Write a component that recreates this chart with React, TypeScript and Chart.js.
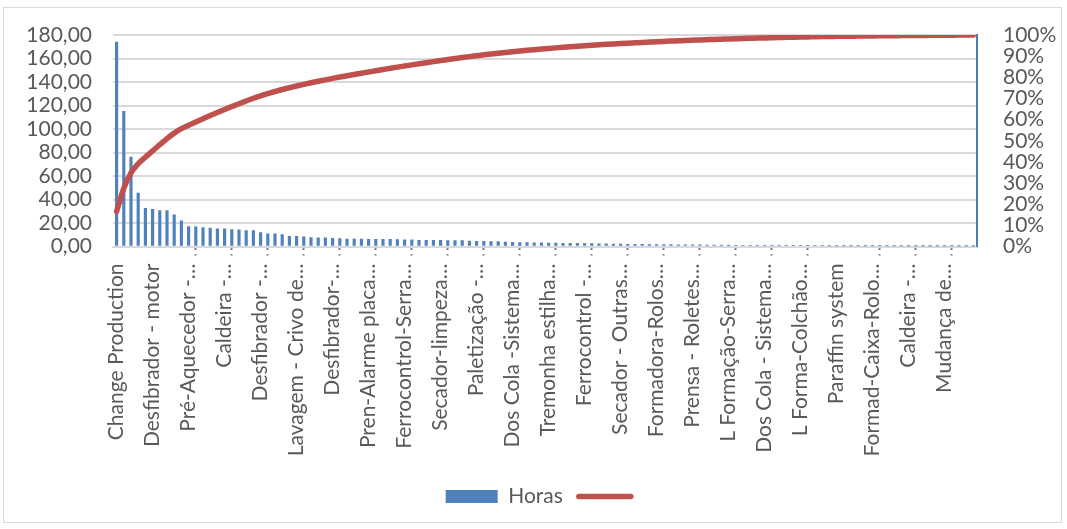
import React, { useEffect, useRef } from "react";
import { Chart, registerables } from "chart.js";

Chart.register(...registerables);

// Category names printed on the axis (one every LABEL_STEP categories)
const TICK_LABELS: string[] = [
  "Change Production",
  "Desfibrador - motor",
  "Pré-Aquecedor -…",
  "Caldeira -…",
  "Desfibrador -…",
  "Lavagem - Crivo de…",
  "Desfibrador-…",
  "Pren-Alarme placa…",
  "Ferrocontrol-Serra…",
  "Secador-limpeza…",
  "Paletização -…",
  "Dos Cola -Sistema…",
  "Tremonha estilha…",
  "Ferrocontrol -…",
  "Secador - Outras…",
  "Formadora-Rolos…",
  "Prensa - Roletes…",
  "L Formação-Serra…",
  "Dos Cola - Sistema…",
  "L Forma-Colchão…",
  "Paraffin system",
  "Formad-Caixa-Rolo…",
  "Caldeira -…",
  "Mudança de…",
];
const LABEL_STEP = 5;

// Downtime hours per cause, sorted descending
const HORAS: number[] = [
  174, 115, 76, 45.5, 32.4, 31.6, 30.5, 30.5, 27, 21.9,
  17, 16.7, 16.1, 15.6, 15, 15, 14.4, 14.2, 13.6, 13.6,
  11.9, 10.7, 10.7, 10.1, 8.7, 8.7, 8.2, 7.6, 7.3, 7.3,
  7.0, 6.7, 6.4, 6.4, 6.4, 6.1, 6.1, 6.1, 6.1, 5.8,
  5.6, 5.6, 5.3, 5.3, 5.3, 5.3, 5.0, 5.0, 5.0, 4.7,
  4.4, 4.4, 4.1, 4.1, 3.8, 3.6, 3.4, 3.3, 3.2, 3.1,
  3.0, 2.9, 2.8, 2.7, 2.6, 2.5, 2.4, 2.3, 2.2, 2.1,
  2.0, 1.9, 1.8, 1.8, 1.7, 1.7, 1.6, 1.6, 1.5, 1.5,
  1.4, 1.4, 1.3, 1.3, 1.2, 1.2, 1.1, 1.1, 1.0, 1.0,
  0.9, 0.9, 0.9, 0.8, 0.8, 0.8, 0.7, 0.7, 0.7, 0.6,
  0.6, 0.6, 0.4, 0.4, 0.4, 0.4, 0.4, 0.4, 0.4, 0.4,
  0.3, 0.3, 0.3, 0.3, 0.3, 0.3, 0.3, 0.3, 0.3, 0.3,
];

// Left axis (hours) and right axis (cumulative share)
const Y_MAX = 180;
const Y_STEP = 20;
const PCT_MAX = 100;
const PCT_STEP = 10;

// Small dotted tick marks under the category axis
const MARK_FIRST = 11;
const MARK_EVERY = 5;
const MARK_HIDDEN = [101];

const CATEGORIES = HORAS.map((_, i) =>
  i % LABEL_STEP === 0 ? TICK_LABELS[i / LABEL_STEP] ?? "" : ""
);

const TOTAL = HORAS.reduce((a, b) => a + b, 0);
const CUMULATIVE: number[] = (() => {
  let run = 0;
  return HORAS.map((v) => {
    run += v;
    return (run / TOTAL) * 100;
  });
})();

const BLUE = "#4F81BD";
const RED = "#C0504D";
const TEXT = "#595959";
const GRID = "#D9D9D9";
const CLEAR = "rgba(0,0,0,0)";
const FONT = { family: "Lato", size: 21 };

export default function App() {
  const canvasRef = useRef<HTMLCanvasElement | null>(null);

  useEffect(() => {
    const canvas = canvasRef.current;
    if (!canvas) return;

    const chart = new Chart(canvas, {
      type: "bar",
      data: {
        labels: CATEGORIES,
        datasets: [
          {
            type: "bar",
            label: "Horas",
            data: HORAS,
            backgroundColor: BLUE,
            borderWidth: 0,
            barThickness: 2.5,
            yAxisID: "y",
            order: 1,
          },
          {
            type: "line",
            label: "",
            data: CUMULATIVE,
            borderColor: RED,
            backgroundColor: RED,
            borderWidth: 5.5,
            borderCapStyle: "round",
            borderJoinStyle: "round",
            cubicInterpolationMode: "monotone",
            pointRadius: 0,
            yAxisID: "y2",
            order: 0,
          },
        ],
      },
      options: {
        animation: false,
        responsive: false,
        devicePixelRatio: 1,
        layout: { padding: { top: 35, left: 20, right: 0, bottom: 12 } },
        plugins: {
          tooltip: { enabled: false },
          legend: {
            position: "bottom",
            labels: {
              usePointStyle: true,
              pointStyleWidth: 52,
              boxHeight: 13,
              padding: 16,
              color: TEXT,
              font: FONT,
              sort: (a: any, b: any) => a.datasetIndex - b.datasetIndex,
              generateLabels: (c: any) => {
                const items = (Chart.defaults.plugins.legend.labels as any).generateLabels(c);
                return items.map((it: any) =>
                  it.datasetIndex === 1
                    ? { ...it, pointStyle: "line", lineWidth: 5.5, lineCap: "round", strokeStyle: RED }
                    : { ...it, pointStyle: "rect", lineWidth: 0, fillStyle: BLUE }
                );
              },
            },
          },
        },
        scales: {
          x: {
            offset: true,
            grid: {
              offset: false,
              drawOnChartArea: false,
              drawTicks: true,
              tickLength: 9,
              tickWidth: 2,
              tickBorderDash: [2, 4],
              tickColor: (ctx: any) => {
                const i = ctx.index;
                const on = i >= MARK_FIRST && (i - MARK_FIRST) % MARK_EVERY === 0 && !MARK_HIDDEN.includes(i);
                return on ? "#7F7F7F" : CLEAR;
              },
            },
            border: { display: true, color: GRID, width: 2 },
            ticks: {
              autoSkip: false,
              maxRotation: 90,
              minRotation: 90,
              padding: 8,
              color: TEXT,
              font: FONT,
            },
            afterFit: (s: any) => {
              s.height = 223.5;
            },
          },
          y: {
            position: "left",
            min: 0,
            max: Y_MAX,
            grid: { color: GRID, lineWidth: 2, drawTicks: true, tickLength: 19, tickColor: CLEAR },
            border: { display: false },
            ticks: {
              autoSkip: false,
              stepSize: Y_STEP,
              padding: 2,
              color: TEXT,
              font: FONT,
              callback: (v: any) => Number(v).toFixed(2).replace(".", ","),
            },
            afterFit: (s: any) => {
              s.width = 93;
            },
          },
          y2: {
            position: "right",
            min: 0,
            max: PCT_MAX,
            grid: { drawOnChartArea: false, drawTicks: true, tickLength: 24, tickColor: CLEAR },
            border: { display: true, color: "#4A7EBB", width: 2 },
            ticks: {
              autoSkip: false,
              stepSize: PCT_STEP,
              padding: 2,
              color: TEXT,
              font: FONT,
              callback: (v: any) => `${v}%`,
            },
            afterFit: (s: any) => {
              s.width = 90;
            },
          },
        },
      },
    } as any);

    return () => chart.destroy();
  }, []);

  return (
    <div style={{ position: "fixed", left: 0, top: 0, width: 1067, height: 529, background: "#fff" }}>
      <div
        style={{
          position: "absolute",
          left: 3,
          top: 7,
          width: 1059,
          height: 516,
          border: "1px solid #D9D9D9",
          boxSizing: "border-box",
        }}
      />
      <canvas
        ref={canvasRef}
        width={1067}
        height={529}
        style={{ position: "absolute", left: 0, top: 0, width: 1067, height: 529 }}
      />
    </div>
  );
}
